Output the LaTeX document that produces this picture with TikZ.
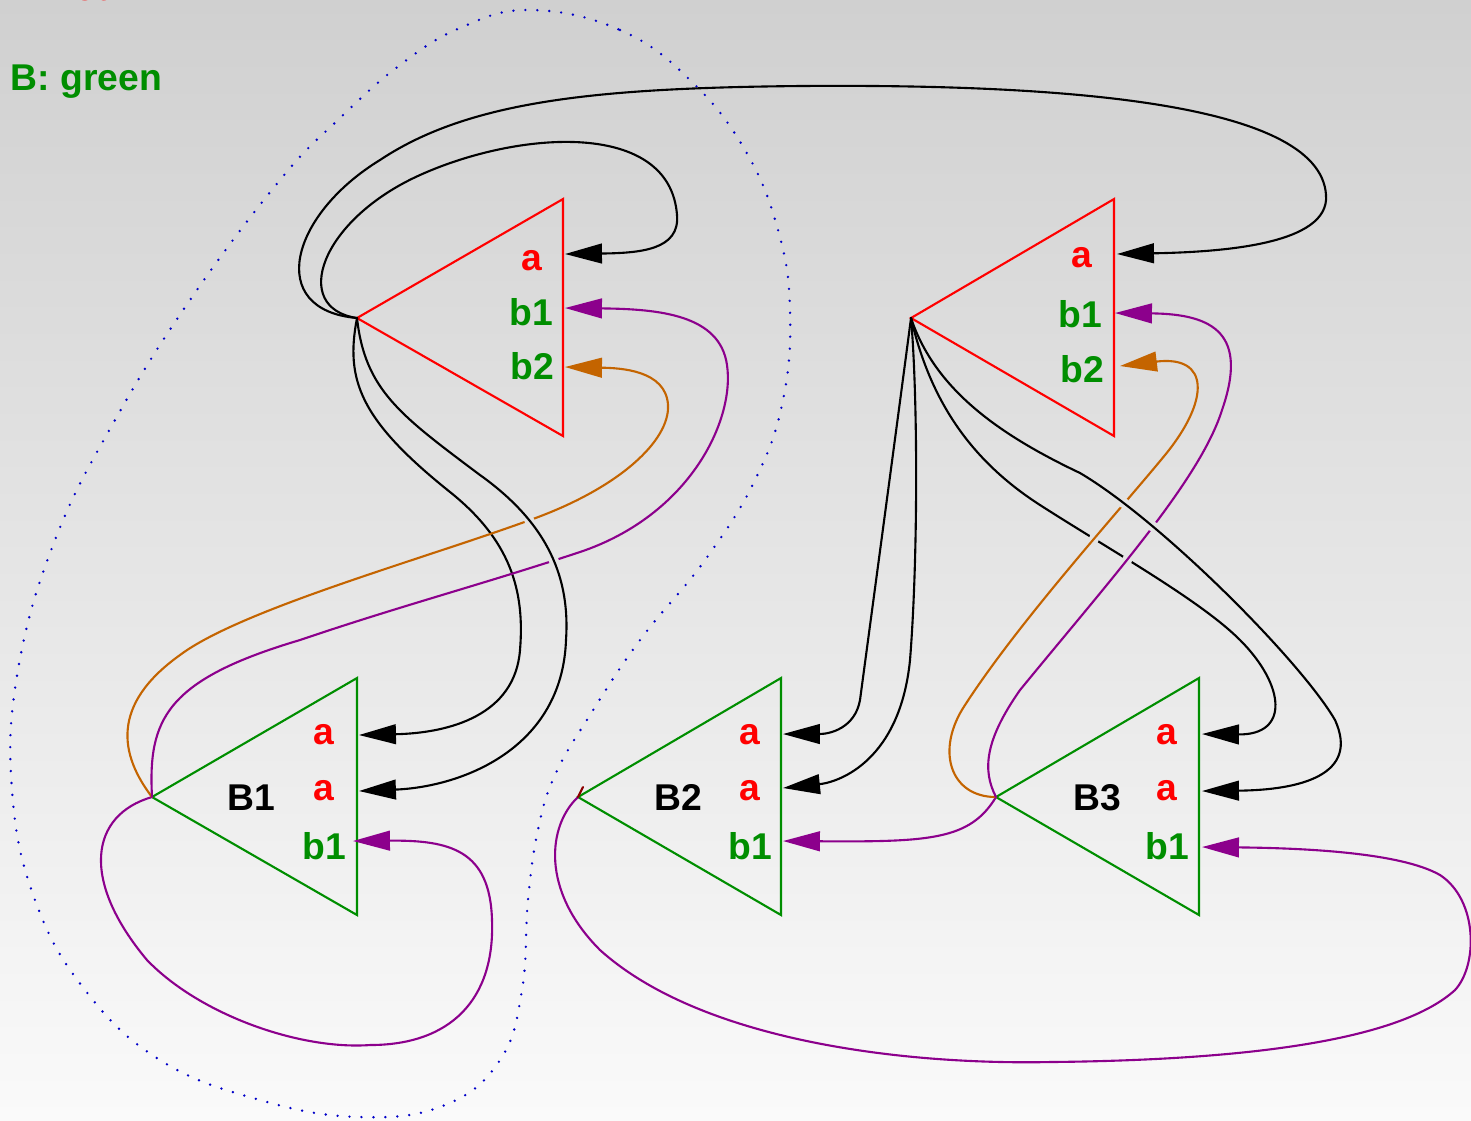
\documentclass[tikz,border=0pt]{standalone}
\usepackage{fontspec}
\setmainfont{Liberation Sans}
\usepackage{xcolor}
\usetikzlibrary{arrows.meta,intersections}

% connectors that pass under / over others
\newcommand\outerSwire{(A1) .. controls (365,390) and (400,415) .. (480,475)
  .. controls (550,525) and (570,580) .. (566,640)
  .. controls (562,750) and (460,787) .. (B1-a2)}
\newcommand\orangeLwire{(B1) .. controls (120,755) and (110,705) .. (180,655)
  .. controls (240,610) and (420,560) .. (530,520)
  .. controls (620,488) and (670,440) .. (668,405)
  .. controls (666,370) and (620,368) .. (A1-b2)}
\newcommand\purpleLwire{(B1) .. controls (148,720) and (165,680) .. (300,640)
  .. controls (400,606) and (480,585) .. (580,552)
  .. controls (690,515) and (735,420) .. (727,365)
  .. controls (720,315) and (660,309) .. (A1-b1)}
\newcommand\blackThreewire{(A2) .. controls (930,400) and (970,460) .. (1040,505)
  .. controls (1110,550) and (1200,600) .. (1240,640)
  .. controls (1285,685) and (1290,735) .. (B3-a1)}
\newcommand\blackFourwire{(A2) .. controls (935,390) and (1000,435) .. (1080,473)
  .. controls (1160,520) and (1300,660) .. (1335,720)
  .. controls (1360,775) and (1300,790) .. (B3-a2)}
\newcommand\orangeRwire{(B3) .. controls (950,797) and (935,750) .. (965,705)
  .. controls (1020,620) and (1120,510) .. (1165,455)
  .. controls (1210,400) and (1210,355) .. (A2-b2)}
\newcommand\purpleRwire{(B3) .. controls (982,770) and (985,740) .. (1020,690)
  .. controls (1110,580) and (1200,480) .. (1222,410)
  .. controls (1248,335) and (1215,314) .. (A2-b1)}

\begin{document}
\begin{tikzpicture}[
    x=0.01cm, y=-0.01cm,
    line cap=round,
    %styles
    wire/.style={line width=0.6pt,-{Triangle[length=10.5pt,width=5.6pt]}},
    block/.style={line width=0.6pt,line join=miter},
    txt/.style={inner sep=0pt,anchor=base,font=\fontsize{10.6}{13}\selectfont\bfseries},
    legend/.style={txt,anchor=base west},
    gap/.style={fill=gapgray},
  ]
  %colors
  \definecolor{topgray}{RGB}{208,208,208}
  \definecolor{botgray}{RGB}{250,250,250}
  \definecolor{gapgray}{RGB}{228,228,228}
  \definecolor{bgreen}{RGB}{0,142,0}
  \definecolor{wpurple}{RGB}{140,0,140}
  \definecolor{worange}{RGB}{196,100,0}
  \definecolor{dotblue}{RGB}{0,0,200}
  \definecolor{tickred}{RGB}{140,0,0}

  \useasboundingbox (0,0) rectangle (1471,1120);
  \shade[top color=topgray,bottom color=botgray] (0,0) rectangle (1471,1120);

  % group outline
  \draw[dotblue,line width=0.75pt,dash pattern=on 0pt off 3.4pt]
  plot[smooth cycle,tension=0.7] coordinates {(530,10) (620,30) (690,80) (745,150)
      (778,230) (790,310) (783,400) (755,480) (705,560) (640,640) (590,715) (555,775)
      (538,830) (528,900) (522,990) (500,1060) (445,1105) (360,1117) (260,1100)
      (160,1060) (85,990) (35,900) (12,790) (18,670) (55,540) (115,420) (190,300)
      (280,180) (340,118) (400,65) (460,28)};

  \node[legend,text=red] (legendA) at (10,0.5) {A: red};
  \node[legend,text=bgreen] (legendB) at (10,90) {B: green};

  % blocks
  \foreach \n/\x/\y/\r/\c in {A1/357/318/563/red, A2/911/318/1114/red,
      B1/152/797/357/bgreen, B2/578/797/781/bgreen, B3/996/797/1199/bgreen}
  {
    \coordinate (\n) at (\x,\y);
    \draw[block,\c] (\n) -- (\r,\y-119) -- (\r,\y+118) -- cycle;
  }
  % ports
  \coordinate (A1-a) at (565,254); \coordinate (A1-b1) at (565,308); \coordinate (A1-b2) at (565,367);
  \coordinate (A2-a) at (1117,254); \coordinate (A2-b1) at (1115,313); \coordinate (A2-b2) at (1120,366);
  \coordinate (B1-a1) at (359,735); \coordinate (B1-a2) at (359,791); \coordinate (B1-b1) at (353,841);
  \coordinate (B2-a1) at (783,734); \coordinate (B2-a2) at (783,788); \coordinate (B2-b1) at (783,841);
  \coordinate (B3-a1) at (1202,734); \coordinate (B3-a2) at (1202,791); \coordinate (B3-b1) at (1202,847);

  % labels
  \node[txt,red] (A1-a-lbl) at (532,270) {a};
  \node[txt,bgreen] (A1-b1-lbl) at (531,325) {b1};
  \node[txt,bgreen] (A1-b2-lbl) at (532,379) {b2};
  \node[txt,red] (A2-a-lbl) at (1082,267) {a};
  \node[txt,bgreen] (A2-b1-lbl) at (1080,327) {b1};
  \node[txt,bgreen] (A2-b2-lbl) at (1082,382) {b2};
  \foreach \n/\x/\nx in {B1/324/251, B2/750/678, B3/1167/1097}
  {
    \node[txt] (\n-lbl) at (\nx,810) {\n};
    \node[txt,red] (\n-a1-lbl) at (\x,744) {a};
    \node[txt,red] (\n-a2-lbl) at (\x,800) {a};
    \node[txt,bgreen] (\n-b1-lbl) at (\x,859) {b1};
  }

  % a wires
  \draw[wire] (A1) .. controls (290,308) and (320,220) .. (420,175)
  .. controls (520,130) and (670,120) .. (677,215)
  .. controls (680,250) and (640,253) .. (A1-a);
  \draw[wire] (A1) .. controls (265,310) and (290,215) .. (380,160)
  .. controls (470,100) and (600,88) .. (800,86)
  .. controls (1050,84) and (1320,100) .. (1326,195)
  .. controls (1330,245) and (1220,252) .. (A2-a);
  \draw[wire] (A1) .. controls (345,380) and (360,420) .. (450,492)
  .. controls (510,540) and (525,590) .. (520,650)
  .. controls (515,715) and (450,733) .. (B1-a1);
  \draw[wire] (A2) .. controls (895,440) and (868,640) .. (860,700)
  .. controls (855,728) and (830,734) .. (B2-a1);
  \draw[wire] (A2) .. controls (918,400) and (918,560) .. (910,660)
  .. controls (900,760) and (840,782) .. (B2-a2);

  % b1 wires without crossings
  \draw[wire,wpurple] (B1) .. controls (90,815) and (80,880) .. (147,960)
  .. controls (200,1015) and (300,1050) .. (370,1045)
  .. controls (450,1045) and (495,1000) .. (492,920)
  .. controls (490,850) and (450,840) .. (B1-b1);
  \draw[wire,wpurple] (B3) .. controls (970,840) and (930,842) .. (B2-b1);
  \draw[wire,wpurple] (B2) .. controls (548,825) and (540,890) .. (600,950)
  .. controls (700,1040) and (900,1065) .. (1050,1062)
  .. controls (1250,1060) and (1400,1040) .. (1455,990)
  .. controls (1478,965) and (1478,900) .. (1440,875)
  .. controls (1400,852) and (1300,848) .. (B3-b1);
  \draw[tickred,line width=0.6pt] (B2) -- ++(5,-10);

  % left group: S wire over orange and purple
  \path[name path=outerS] \outerSwire;
  \path[name path=orangeL] \orangeLwire;
  \path[name path=purpleL] \purpleLwire;
  \draw[wire,worange] \orangeLwire;
  \draw[wire,wpurple] \purpleLwire;
  \fill[gap,name intersections={of=outerS and orangeL}] (intersection-1) circle[radius=1.5pt];
  \fill[gap,name intersections={of=outerS and purpleL}] (intersection-1) circle[radius=1.5pt];
  \draw[wire] \outerSwire;

  % right group: orange and purple between the two a wires
  \path[name path=blackThree] \blackThreewire;
  \path[name path=blackFour] \blackFourwire;
  \path[name path=orangeR] \orangeRwire;
  \path[name path=purpleR] \purpleRwire;
  \draw[wire] \blackThreewire;
  \fill[gap,name intersections={of=blackThree and orangeR}] (intersection-1) circle[radius=1.5pt];
  \fill[gap,name intersections={of=blackThree and purpleR}] (intersection-1) circle[radius=1.5pt];
  \draw[wire,worange] \orangeRwire;
  \draw[wire,wpurple] \purpleRwire;
  \fill[gap,name intersections={of=blackFour and orangeR}] (intersection-1) circle[radius=1.5pt];
  \fill[gap,name intersections={of=blackFour and purpleR}] (intersection-1) circle[radius=1.5pt];
  \draw[wire] \blackFourwire;
\end{tikzpicture}
\end{document}
